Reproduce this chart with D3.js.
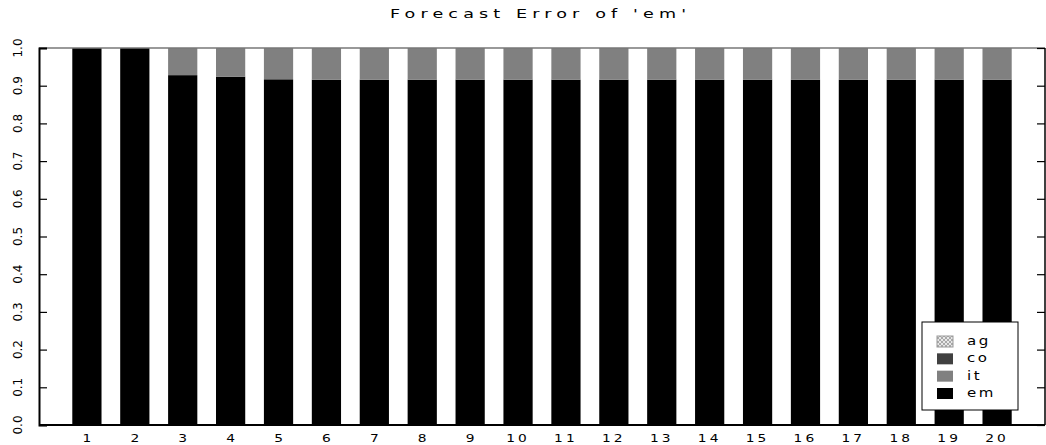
<!DOCTYPE html>
<html>
<head>
<meta charset="utf-8">
<script src="https://cdn.jsdelivr.net/npm/d3@7"></script>
<style>
body { margin:0; background:#fff; }
svg { display:block; }
text { font-family: "DejaVu Sans", sans-serif; fill:#000; }
</style>
</head>
<body>
<svg id="chart" width="1046" height="445"></svg>
<script>
const title = "Forecast Error of 'em'";
const categories = [1,2,3,4,5,6,7,8,9,10,11,12,13,14,15,16,17,18,19,20];
const seriesNames = ["em","it","co","ag"];
const em = [1.0,1.0,0.928,0.924,0.917,0.916,0.916,0.916,0.916,0.916,0.916,0.916,0.916,0.916,0.916,0.916,0.916,0.916,0.916,0.916];
const it = [0.0,0.0,0.072,0.076,0.083,0.084,0.084,0.084,0.084,0.084,0.084,0.084,0.084,0.084,0.084,0.084,0.084,0.084,0.084,0.084];
const co = [0,0,0,0,0,0,0,0,0,0,0,0,0,0,0,0,0,0,0,0];
const ag = [0,0,0,0,0,0,0,0,0,0,0,0,0,0,0,0,0,0,0,0];
const yTicks = [0.0,0.1,0.2,0.3,0.4,0.5,0.6,0.7,0.8,0.9,1.0];
const legendOrder = ["ag","co","it","em"];

const colors = {em:"#000000", it:"#808080", co:"#404040", ag:"url(#hatch)"};
const valuesBy = {em, it, co, ag};

const svg = d3.select("#chart");
const defs = svg.append("defs");
const pat = defs.append("pattern").attr("id","hatch").attr("patternUnits","userSpaceOnUse")
  .attr("width",4).attr("height",4);
pat.append("rect").attr("width",4).attr("height",4).attr("fill","#e8e8e8");
pat.append("path").attr("d","M0,0L4,4M4,0L0,4").attr("stroke","#999").attr("stroke-width",0.8);

const L = 39, R = 1045, T = 48, B = 425;
const x = d3.scaleLinear().domain([0, categories.length + 1]).range([L, R]);
const y = d3.scaleLinear().domain([0, 1]).range([B, T]);
const barW = (x(1) - x(0)) * 0.61;

const rows = categories.map((c,i) => {
  const r = {cat:c};
  seriesNames.forEach(s => r[s] = valuesBy[s][i]);
  return r;
});
const stack = d3.stack().keys(seriesNames)(rows);

svg.append("g").selectAll("g").data(stack).join("g")
  .attr("fill", d => colors[d.key])
  .selectAll("rect").data(d => d).join("rect")
  .attr("x", d => x(d.data.cat) - barW/2)
  .attr("width", barW)
  .attr("y", d => y(d[1]))
  .attr("height", d => Math.max(0, y(d[0]) - y(d[1])));

svg.append("line").attr("x1",L).attr("x2",R).attr("y1",T).attr("y2",T).attr("stroke","#777").attr("stroke-width",1.5);
svg.append("line").attr("x1",R).attr("x2",R).attr("y1",T).attr("y2",B).attr("stroke","#000").attr("stroke-width",1.5);

const yAxis = d3.axisRight(y).tickValues(yTicks).tickSize(8).tickFormat("");
const gy = svg.append("g").attr("transform",`translate(${L},0)`).call(yAxis);
gy.select(".domain").attr("stroke-width",2);
gy.selectAll(".tick line").attr("stroke-width",1.2);
const yAxisR = d3.axisLeft(y).tickValues(yTicks).tickSize(8).tickFormat("");
const gyr = svg.append("g").attr("transform",`translate(${R},0)`).call(yAxisR);
gyr.select(".domain").remove();
gyr.selectAll(".tick line").attr("stroke-width",1.2);

svg.append("g").selectAll("text").data(yTicks).join("text")
  .attr("transform", d => `translate(22,${y(d)}) rotate(-90)`)
  .attr("text-anchor","middle")
  .attr("font-size",12)
  .attr("textLength",19).attr("lengthAdjust","spacingAndGlyphs")
  .text(d => d.toFixed(1));

svg.append("line").attr("x1",L).attr("x2",R).attr("y1",B).attr("y2",B).attr("stroke","#000").attr("stroke-width",2);
svg.append("g").selectAll("text").data(categories).join("text")
  .attr("transform", d => `translate(${x(d)},442) scale(1.25,1)`)
  .attr("text-anchor","middle")
  .attr("font-size",11)
  .attr("letter-spacing", d => d >= 10 ? 2.5 : 0)
  .text(d => d);

svg.append("g").attr("transform","translate(538,18) scale(1.35,1)")
  .append("text").attr("x",0).attr("y",0).attr("text-anchor","middle")
  .attr("font-size",13).attr("textLength",296/1.35).attr("lengthAdjust","spacing")
  .text(title);

const lg = svg.append("g");
lg.append("rect").attr("x",922).attr("y",322).attr("width",96).attr("height",88)
  .attr("fill","#fff").attr("stroke","#000").attr("stroke-width",1);
const ly = d3.scalePoint().domain(legendOrder).range([341,393]);
legendOrder.forEach(k => {
  lg.append("rect").attr("x",937).attr("y",ly(k)-5).attr("width",16).attr("height",11)
    .attr("fill", colors[k]).attr("stroke", k==="ag" ? "#999" : "none");
  lg.append("text").attr("transform",`translate(967,${ly(k)+4}) scale(1.25,1)`).attr("font-size",12)
    .attr("letter-spacing",2).text(k);
});
</script>
</body>
</html>
